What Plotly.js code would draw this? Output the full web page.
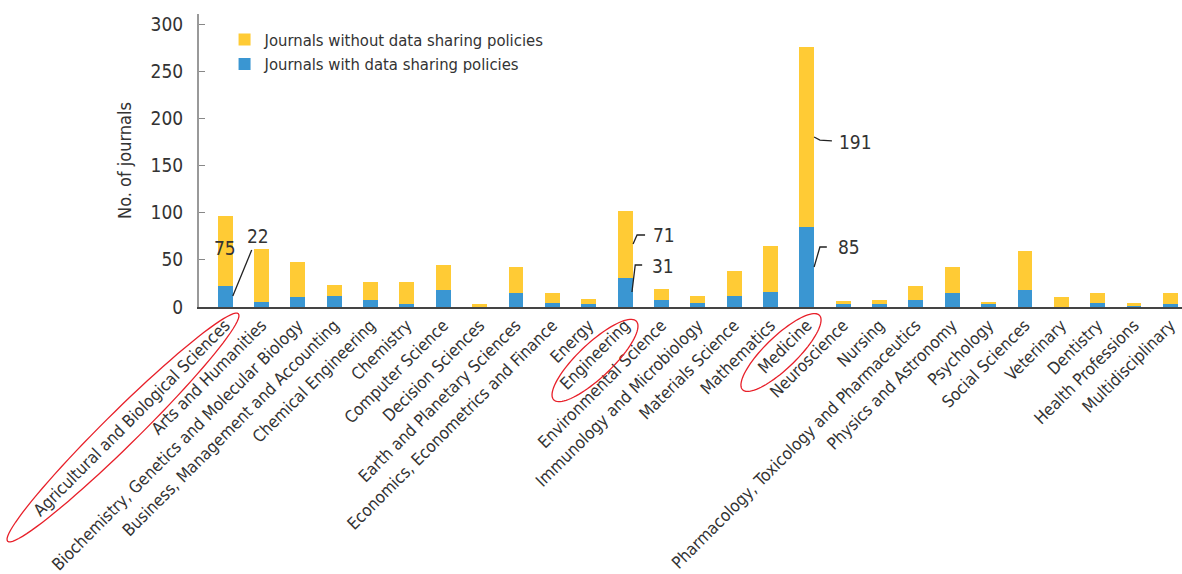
<!DOCTYPE html>
<html>
<head>
<meta charset="utf-8">
<script src="https://cdn.plot.ly/plotly-3.0.1.min.js"></script>
<style>html,body{margin:0;padding:0;background:#fff;}#chart{width:1182px;height:574px;}</style>
</head>
<body>
<div id="chart"></div>
<script>
const categories = [
  "Agricultural and Biological Sciences", "Arts and Humanities",
  "Biochemistry, Genetics and Molecular Biology", "Business, Management and Accounting",
  "Chemical Engineering", "Chemistry", "Computer Science", "Decision Sciences",
  "Earth and Planetary Sciences", "Economics, Econometrics and Finance", "Energy",
  "Engineering", "Environmental Science", "Immunology and Microbiology",
  "Materials Science", "Mathematics", "Medicine", "Neuroscience", "Nursing",
  "Pharmacology, Toxicology and Pharmaceutics", "Physics and Astronomy", "Psychology",
  "Social Sciences", "Veterinary", "Dentistry", "Health Professions", "Multidisciplinary"
];
const withPolicy =    [22, 5, 11, 12, 7, 3, 18, 0, 15, 4, 3, 31, 7, 4, 12, 16, 85, 3, 3, 7, 15, 3, 18, 0, 4, 1, 3];
const withoutPolicy = [75, 56, 37, 11, 19, 23, 26, 3, 27, 11, 6, 71, 12, 8, 26, 49, 191, 3, 4, 15, 27, 2, 41, 11, 11, 3, 12];
const seriesNames = ["Journals with data sharing policies", "Journals without data sharing policies"];
const yTicks = [0, 50, 100, 150, 200, 250, 300];

const FONT = "'Liberation Sans Narrow', 'DejaVu Sans Condensed', Roboto, sans-serif";
const TXT = "#333333";

const traces = [
  {type: "bar", name: seriesNames[0], x: categories, y: withPolicy,
   marker: {color: "#3A96D2"}, hoverinfo: "skip"},
  {type: "bar", name: seriesNames[1], x: categories, y: withoutPolicy,
   marker: {color: "#FFCB35"}, hoverinfo: "skip"}
];

// leader lines (data coords relative to category index)
function lead(idx, pts) {
  let d = "";
  pts.forEach((p, i) => { d += (i ? " L" : "M") + (idx + p[0]) + "," + p[1]; });
  return {type: "path", xref: "x", yref: "y", path: d, line: {color: "#222", width: 1.3}};
}
function lbl(idx, dx, y, text, anchor) {
  return {x: idx + dx, y: y, xref: "x", yref: "y", text: text, showarrow: false,
          xanchor: anchor || "left", yanchor: "middle", font: {family: FONT, size: 19, color: TXT}};
}
const iA = 0, iE = 11, iM = 16;

// rotated ellipse outlines around highlighted labels (pixel geometry -> paper)
const L = 199, T = 14, W = 983, H = 293;
function ellipse(cx, cy, a, b, angDeg) {
  const th = angDeg * Math.PI / 180;
  let d = "";
  for (let k = 0; k <= 90; k++) {
    const t = k / 90 * 2 * Math.PI;
    const px = cx + a * Math.cos(t) * Math.cos(th) - b * Math.sin(t) * Math.sin(th);
    const py = cy + a * Math.cos(t) * Math.sin(th) + b * Math.sin(t) * Math.cos(th);
    const xp = (px - L) / W, yp = 1 - (py - T) / H;
    d += (k ? " L" : "M") + xp.toFixed(5) + "," + yp.toFixed(5);
  }
  return {type: "path", xref: "paper", yref: "paper", path: d + " Z", line: {color: "#E8202A", width: 1.3}};
}

const layout = {
  width: 1182, height: 574,
  margin: {l: L, r: 0, t: T, b: 574 - T - H, pad: 0},
  paper_bgcolor: "#fff", plot_bgcolor: "#fff",
  barmode: "stack", bargap: 0.59,
  font: {family: FONT, size: 17, color: TXT},
  showlegend: true,
  legend: {x: 0.026, y: 0.972, xanchor: "left", yanchor: "top", traceorder: "reversed",
           font: {family: FONT, size: 16.5, color: TXT}, bgcolor: "rgba(0,0,0,0)",
           itemwidth: 30, tracegroupgap: 0},
  xaxis: {type: "category", range: [-0.72, 26.32], tickangle: -45, showgrid: false,
          ticks: "", showline: true, linecolor: "#444", linewidth: 2,
          tickfont: {family: FONT, size: 16.8, color: TXT}, fixedrange: true},
  yaxis: {range: [0, 310.6], tickvals: yTicks, showgrid: false, zeroline: false,
          ticks: "inside", ticklen: 6, tickcolor: "#888", showline: true, linecolor: "#999", linewidth: 2,
          ticklabelstandoff: 10,
          tickfont: {family: FONT, size: 19, color: TXT},
          title: {text: "No. of journals", font: {family: FONT, size: 18, color: TXT}, standoff: 14},
          fixedrange: true},
  shapes: [
    lead(iA, [[0.21, 11.7], [0.73, 60.4]]),
    lead(iE, [[0.22, 66.8], [0.33, 76.3], [0.55, 76.3]]),
    lead(iE, [[0.19, 15.9], [0.28, 44.5], [0.47, 44.5]]),
    lead(iM, [[0.2, 180.2], [0.36, 177], [0.69, 176]]),
    lead(iM, [[0.2, 42.4], [0.36, 63.6], [0.55, 63.6]]),
    ellipse(123, 427.5, 162, 17, -44.6),
    ellipse(595, 360.5, 57, 17, -43.5),
    ellipse(781, 352.5, 53.5, 16, -44)
  ],
  annotations: [
    lbl(iA, 0, 62.5, String(withoutPolicy[iA]), "center"),
    lbl(iA, 0.55, 75, String(withPolicy[iA])),
    lbl(iE, 0.7, 76.3, String(withoutPolicy[iE])),
    lbl(iE, 0.68, 43, String(withPolicy[iE])),
    lbl(iM, 0.83, 175, String(withoutPolicy[iM])),
    lbl(iM, 0.8, 64, String(withPolicy[iM]))
  ]
};

Plotly.newPlot("chart", traces, layout, {displayModeBar: false, staticPlot: true});
</script>
</body>
</html>
